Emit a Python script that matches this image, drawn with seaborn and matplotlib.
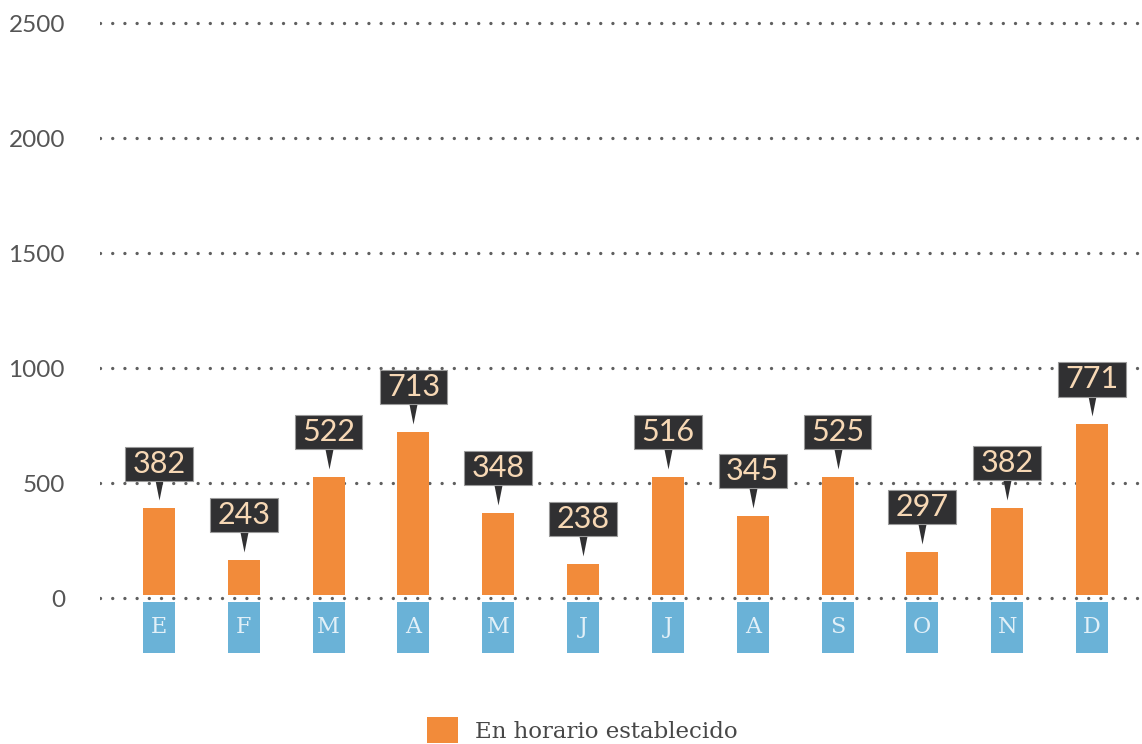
import numpy as np
import pandas as pd
import matplotlib
matplotlib.use("Agg")
import matplotlib.pyplot as plt
from matplotlib.path import Path
import seaborn as sns

# ---- data ----
month_ids = ["Ene", "Feb", "Mar", "Abr", "May", "Jun", "Jul", "Ago", "Sep", "Oct", "Nov", "Dic"]
month_letters = ["E", "F", "M", "A", "M", "J", "J", "A", "S", "O", "N", "D"]
bar_values = [391, 166, 527, 723, 371, 149, 527, 358, 527, 201, 392, 757]
label_values = [382, 243, 522, 713, 348, 238, 516, 345, 525, 297, 382, 771]
y_ticks = [0, 500, 1000, 1500, 2000, 2500]
series_name = "En horario establecido"

ORANGE = "#F28B3A"
BLUE = "#6AB2D7"
GRID = "#5f5f5f"
BOX = "#303032"
PEACH = "#F7D8B5"

sns.set_theme(style="white")
plt.rcParams["font.family"] = ["Lato", "DejaVu Sans"]


def callout_box(x0, y0, width, height, mutation_size):
    px = 0.24 * mutation_size
    py = 0.10 * mutation_size
    x0, y0 = x0 - px, y0 - py
    x1, y1 = x0 + width + 2 * px, y0 + height + 2 * py
    return Path([(x0, y0), (x1, y0), (x1, y1), (x0, y1), (x0, y0)],
                [Path.MOVETO, Path.LINETO, Path.LINETO, Path.LINETO, Path.CLOSEPOLY])


df = pd.DataFrame({"mes": month_ids, "valor": bar_values})

fig = plt.figure(figsize=(11.42, 7.44), dpi=100)
ax = fig.add_axes([100 / 1142, 83.6 / 744, 1042 / 1142, 650.9 / 744])

sns.barplot(data=df, x="mes", y="valor", order=month_ids, color=ORANGE,
            saturation=1, width=0.377, linewidth=0, ax=ax, label=series_name,
            zorder=2)
if ax.get_legend() is not None:
    ax.get_legend().remove()

ax.set_xlim(-0.696, 11.59)
ax.set_ylim(-270, 2560)
ax.set_yticks(y_ticks)
ax.set_yticklabels([str(t) for t in y_ticks])
ax.set_xticks([])
ax.set_xlabel("")
ax.set_ylabel("")
for s in ax.spines.values():
    s.set_visible(False)
ax.tick_params(axis="y", length=0, pad=25.2, labelsize=17.5, labelcolor="#555555")

dot_style = dict(color=GRID, linewidth=2.4, linestyle=(0, (0.01, 3.65)),
                 dash_capstyle="round")
for t in y_ticks:
    ax.axhline(t, zorder=1, **dot_style)

# gap between bar bases and zero line
ax.axhspan(-14, 14, color="white", zorder=2.5, linewidth=0)
ax.axhline(0, zorder=2.6, **dot_style)

# month boxes below the axis
xs = np.arange(len(month_ids))
ax.bar(xs, height=-223, bottom=-15, width=0.377, color=BLUE, linewidth=0, zorder=2)
for x, letter in zip(xs, month_letters):
    ax.text(x, -126.5, letter, ha="center", va="center", fontsize=16,
            family="DejaVu Serif", color="#E2F0F8", zorder=3)

# callout pointers
tri = Path([(-4.2, 29), (4.2, 29), (0, 8), (-4.2, 29)],
           [Path.MOVETO, Path.LINETO, Path.LINETO, Path.CLOSEPOLY])
ax.plot(xs, bar_values, linestyle="none", marker=tri, markersize=41.76,
        color=BOX, markeredgewidth=0, zorder=4)

# callout boxes
for x, v, lab in zip(xs, bar_values, label_values):
    ax.annotate(f"{lab}", xy=(x, v), xytext=(0, 32.2), textcoords="offset points",
                ha="center", va="center", fontsize=22, color=PEACH, zorder=5,
                bbox=dict(boxstyle=callout_box, fc=BOX, ec="#9a9a9a", lw=0.8))

handles, labels = ax.get_legend_handles_labels()
fig.legend(handles[:1], labels[:1], loc="center left",
           bbox_to_anchor=(427 / 1142, 14 / 744), frameon=False, borderpad=0,
           borderaxespad=0, handlelength=1.36, handleheight=1.36, handletextpad=0.72,
           prop=dict(family="DejaVu Serif", size=16.5), labelcolor="#474747")

fig.savefig("out.png", dpi=100)
